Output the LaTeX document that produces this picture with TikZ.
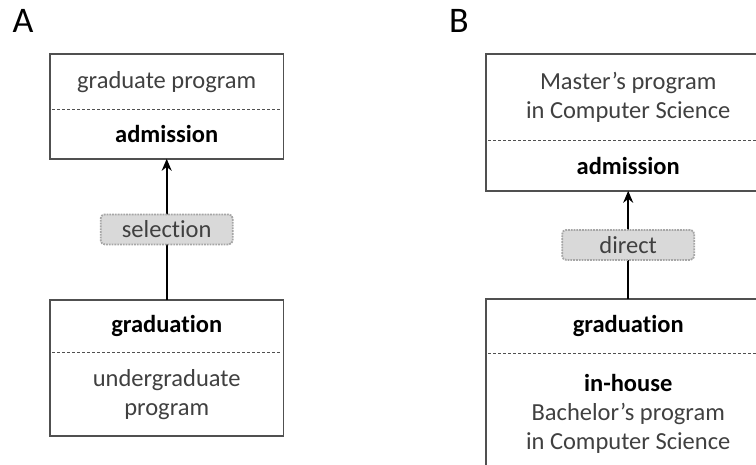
\documentclass[tikz,border=0pt]{standalone}
\usepackage{fontspec}
\setmainfont{Carlito}[Ligatures={TeX,NoCommon}]
\usetikzlibrary{positioning,arrows.meta}
\definecolor{boxline}{HTML}{505050}
\definecolor{textgray}{HTML}{404040}
\definecolor{tagfill}{HTML}{D9D9D9}
\definecolor{tagline}{HTML}{A6A6A6}

\begin{document}
\begin{tikzpicture}[x=1pt,y=-1pt]
    \tikzset{part/.style={minimum width=233pt,inner sep=0pt,align=center,
                text=textgray,font=\fontsize{24.5}{29}\selectfont},
            key/.style={part,text=black,font=\fontsize{24.5}{29}\selectfont\bfseries},
            outline/.style={draw=boxline,line width=1.4pt},
            divider/.style={draw=boxline,densely dashed,line width=0.6pt},
            flow/.style={draw=black,line width=1.8pt,-{Stealth[length=12pt,width=10pt]}},
            tag/.style={fill=tagfill,draw=tagline,densely dotted,rounded corners=4pt,
                inner sep=0pt,minimum width=132pt,minimum height=30pt,
                text=textgray,font=\fontsize{24.5}{29}\selectfont},
            panel/.style={inner sep=0pt,font=\fontsize{36}{40}\selectfont}}
    \useasboundingbox (0,0) rectangle (756,464);
    \clip (0,0) rectangle (756,464);

    \node[panel] (labA) at (23,21) {A};
    \node[panel] (labB) at (459,21) {B};

    % A
    \node[part,minimum height=55pt,anchor=north west] (gradprog) at (50,54) {graduate program};
    \node[key,minimum height=49pt,below=0pt of gradprog] (admA) {admission};
    \node[key,minimum height=52pt,anchor=north west] (gradA) at (50,300) {graduation};
    \node[part,minimum height=83pt,below=0pt of gradA] (ugprog) {undergraduate\\program};

    % B
    \node[part,minimum width=284pt,minimum height=86pt,anchor=north west] (msprog) at (486,54)
        {Master's program\\in Computer Science};
    \node[key,minimum width=284pt,minimum height=50pt,below=0pt of msprog] (admB) {admission};
    \node[key,minimum width=284pt,minimum height=54pt,anchor=north west] (gradB) at (486,299) {graduation};
    \node[part,minimum width=284pt,minimum height=120pt,below=0pt of gradB] (bsprog)
        {\textcolor{black}{\bfseries in-house}\\Bachelor's program\\in Computer Science};

    \foreach \top/\bot in {gradprog/admA,gradA/ugprog,msprog/admB,gradB/bsprog}{
        \draw[outline] (\top.north west) rectangle (\bot.south east);
        \draw[divider] ([xshift=2pt]\top.south west) -- ([xshift=-2pt]\top.south east);
    }

    \draw[flow] (gradA.north) -- (admA.south) node[tag,midway] {selection};
    \draw[flow] (gradB.north) -- (admB.south) node[tag,midway] {direct};
\end{tikzpicture}
\end{document}
